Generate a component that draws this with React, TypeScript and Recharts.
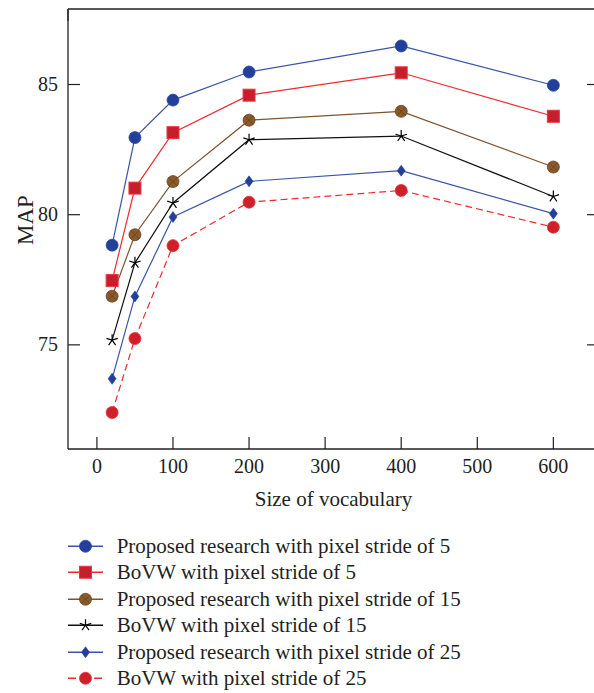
import { LineChart, Line, XAxis, YAxis, Legend, Label } from "recharts";

// vocabulary sizes (x) and MAP values
const vocab = [20, 50, 100, 200, 400, 600];
const proposed5 = [78.83, 82.96, 84.4, 85.48, 86.48, 84.97];
const bovw5 = [77.47, 81.02, 83.15, 84.59, 85.45, 83.78];
const proposed15 = [76.87, 79.23, 81.27, 83.63, 83.97, 81.83];
const bovw15 = [75.18, 78.15, 80.45, 82.88, 83.02, 80.7];
const proposed25 = [73.7, 76.86, 79.91, 81.28, 81.69, 80.04];
const bovw25 = [72.4, 75.24, 78.81, 80.48, 80.93, 79.52];

const xTicks = [0, 100, 200, 300, 400, 500, 600];
const yTicks = [75, 80, 85];

const FONT = '"Liberation Serif", "Times New Roman", serif';
const INK = "#231f20";

const data = vocab.map((v, i) => ({
  v,
  p5: proposed5[i],
  b5: bovw5[i],
  p15: proposed15[i],
  b15: bovw15[i],
  p25: proposed25[i],
  b25: bovw25[i],
}));

type Shape = "circle" | "square" | "xcircle" | "star" | "diamond";

const series: {
  key: string;
  name: string;
  line: string;
  fill: string;
  edge: string;
  shape: Shape;
  dash?: string;
}[] = [
  { key: "p5", name: "Proposed research with pixel stride of 5", line: "#3a55a6", fill: "#22409a", edge: "#2b4aa0", shape: "circle" },
  { key: "b5", name: "BoVW with pixel stride of 5", line: "#ee2a2e", fill: "#c61f2b", edge: "#e8383f", shape: "square" },
  { key: "p15", name: "Proposed research with pixel stride of 15", line: "#7d5430", fill: "#8b5a2b", edge: "#6a4220", shape: "xcircle" },
  { key: "b15", name: "BoVW with pixel stride of 15", line: "#111111", fill: "#000000", edge: "#000000", shape: "star" },
  { key: "p25", name: "Proposed research with pixel stride of 25", line: "#3a55a6", fill: "#22409a", edge: "#22409a", shape: "diamond" },
  { key: "b25", name: "BoVW with pixel stride of 25", line: "#ee2a2e", fill: "#cf202a", edge: "#e0303a", shape: "circle", dash: "7 4" },
];

function Marker({ shape, cx, cy, fill, edge }: { shape: Shape; cx: number; cy: number; fill: string; edge: string }) {
  if (cx == null || cy == null) return null;
  switch (shape) {
    case "circle":
      return <circle cx={cx} cy={cy} r={6} fill={fill} stroke={edge} strokeWidth={0.8} />;
    case "square":
      return <rect x={cx - 6} y={cy - 6} width={12} height={12} fill={fill} stroke={edge} strokeWidth={1} />;
    case "xcircle": {
      const d = 4.2;
      return (
        <g>
          <circle cx={cx} cy={cy} r={6} fill={fill} stroke={edge} strokeWidth={0.8} />
          <line x1={cx - d} y1={cy - d} x2={cx + d} y2={cy + d} stroke={edge} strokeWidth={0.9} />
          <line x1={cx - d} y1={cy + d} x2={cx + d} y2={cy - d} stroke={edge} strokeWidth={0.9} />
        </g>
      );
    }
    case "star": {
      const arms = [0, 1, 2, 3, 4].map((k) => {
        const a = (-90 + 72 * k) * (Math.PI / 180);
        return (
          <line key={k} x1={cx} y1={cy} x2={cx + 6 * Math.cos(a)} y2={cy + 6 * Math.sin(a)} stroke={fill} strokeWidth={1.2} />
        );
      });
      return <g>{arms}</g>;
    }
    case "diamond":
      return (
        <polygon
          points={`${cx},${cy - 5.5} ${cx + 4},${cy} ${cx},${cy + 5.5} ${cx - 4},${cy}`}
          fill={fill}
          stroke={edge}
          strokeWidth={0.6}
        />
      );
  }
  return null;
}

const textStyle = (size: number) => ({ fontFamily: FONT, fontSize: size, fill: INK });

const bottomTick = (p: any) => (
  <g>
    <line x1={p.x} x2={p.x} y1={p.y} y2={p.y - 12} stroke={INK} strokeWidth={1.2} />
    <text x={p.x} y={p.y + 24} textAnchor="middle" style={textStyle(20)}>
      {p.payload.value}
    </text>
  </g>
);

const topTick = (p: any) => <line x1={p.x} x2={p.x} y1={p.y} y2={p.y + 12} stroke={INK} strokeWidth={1.2} />;

const leftTick = (p: any) => (
  <g>
    <line x1={p.x} x2={p.x + 12} y1={p.y} y2={p.y} stroke={INK} strokeWidth={1.2} />
    <text x={p.x - 10} y={p.y + 6.5} textAnchor="end" style={textStyle(20)}>
      {p.payload.value}
    </text>
  </g>
);

const rightTick = (p: any) => <line x1={p.x} x2={p.x - 12} y1={p.y} y2={p.y} stroke={INK} strokeWidth={1.2} />;

const renderLegend = () => (
  <div style={{ fontFamily: FONT, fontSize: 21, color: INK }}>
    {series.map((s) => (
      <div key={s.key} style={{ display: "flex", alignItems: "center", height: 26.5 }}>
        <svg width={48.7} height={26.5} style={{ flex: "none" }}>
          <line x1={0} x2={35} y1={13.25} y2={13.25} stroke={s.line} strokeWidth={1.4} strokeDasharray={s.dash ? "8 5" : undefined} />
          <Marker shape={s.shape} cx={17.5} cy={13.25} fill={s.fill} edge={s.edge} />
        </svg>
        <span style={{ whiteSpace: "nowrap", lineHeight: "26.5px" }}>{s.name}</span>
      </div>
    ))}
  </div>
);

const axisLine = { stroke: INK, strokeWidth: 1.3 };

export default function App() {
  return (
    <div style={{ position: "fixed", left: 0, top: 0, width: 594, height: 693, overflow: "hidden", background: "#fff", fontFamily: FONT }}>
      <LineChart width={619} height={693} data={data} margin={{ top: 0, right: 0, bottom: 184, left: 0 }}>
        <XAxis
          dataKey="v"
          type="number"
          domain={[-38, 660]}
          ticks={xTicks}
          interval={0}
          allowDataOverflow
          height={60}
          tickSize={0}
          tickMargin={0}
          tickLine={false}
          axisLine={axisLine}
          tick={bottomTick}
        >
          <Label
            content={(p: any) => (
              <text
                x={p.viewBox.x + p.viewBox.width / 2}
                y={p.viewBox.y + 57}
                textAnchor="middle"
                style={textStyle(21)}
              >
                Size of vocabulary
              </text>
            )}
          />
        </XAxis>
        <XAxis
          xAxisId="top"
          orientation="top"
          type="number"
          domain={[-38, 660]}
          ticks={xTicks}
          interval={0}
          allowDataOverflow
          height={9}
          tickSize={0}
          tickMargin={0}
          tickLine={false}
          axisLine={axisLine}
          tick={topTick}
        />
        <YAxis
          type="number"
          domain={[71, 87.9]}
          ticks={yTicks}
          interval={0}
          allowDataOverflow
          width={68}
          tickSize={0}
          tickMargin={0}
          tickLine={false}
          axisLine={axisLine}
          tick={leftTick}
        >
          <Label
            content={(p: any) => {
              const cx = p.viewBox.x + 33;
              const cy = p.viewBox.y + p.viewBox.height / 2 - 9;
              return (
                <text x={cx} y={cy} transform={`rotate(-90 ${cx} ${cy})`} textAnchor="middle" style={textStyle(23)}>
                  MAP
                </text>
              );
            }}
          />
        </YAxis>
        <YAxis
          yAxisId="right"
          orientation="right"
          type="number"
          domain={[71, 87.9]}
          ticks={yTicks}
          interval={0}
          allowDataOverflow
          width={20}
          tickSize={0}
          tickMargin={0}
          tickLine={false}
          axisLine={axisLine}
          tick={rightTick}
        />
        <Legend
          layout="vertical"
          align="center"
          verticalAlign="middle"
          wrapperStyle={{ left: 68, top: 532.5, width: 520 }}
          content={renderLegend}
        />
        {series.map((s) => (
          <Line
            key={s.key}
            dataKey={s.key}
            name={s.name}
            type="linear"
            stroke={s.line}
            strokeWidth={1.2}
            strokeDasharray={s.dash}
            isAnimationActive={false}
            activeDot={false}
            dot={(p: any) => (
              <Marker key={`${s.key}-${p.index}`} shape={s.shape} cx={p.cx} cy={p.cy} fill={s.fill} edge={s.edge} />
            )}
          />
        ))}
      </LineChart>
    </div>
  );
}
